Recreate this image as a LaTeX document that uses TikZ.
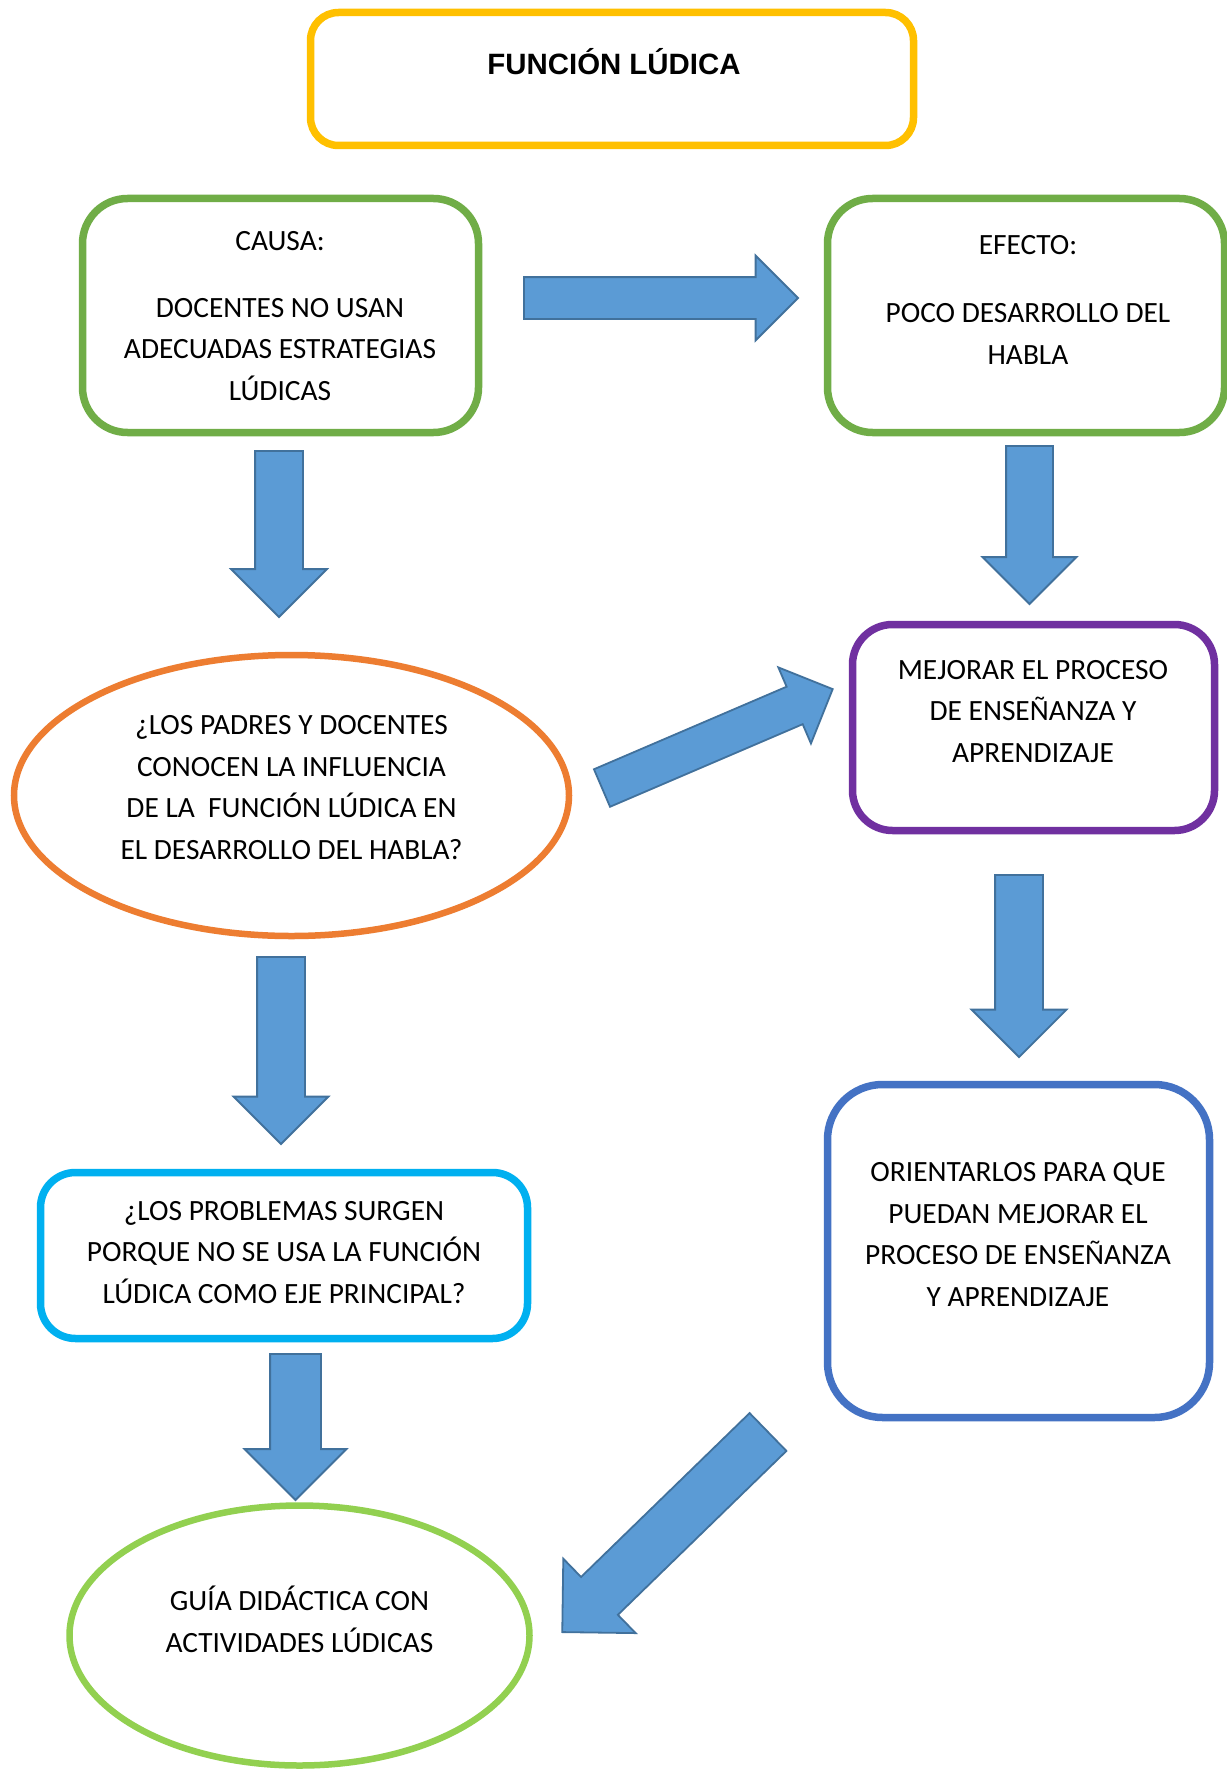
\documentclass[tikz,border=0pt]{standalone}
\usepackage{fontspec}
\setmainfont{Carlito}
\newfontfamily\titlefont{Liberation Sans}
\usetikzlibrary{shapes.geometric,shapes.arrows}
\definecolor{arrowfill}{HTML}{5B9BD5}
\definecolor{arrowedge}{HTML}{41719C}
\definecolor{gold}{HTML}{FFC000}
\definecolor{leaf}{HTML}{70AD47}
\definecolor{lime}{HTML}{92D050}
\definecolor{tangerine}{HTML}{ED7D31}
\definecolor{violet}{HTML}{7030A0}
\definecolor{royal}{HTML}{4472C4}
\definecolor{sky}{HTML}{00B0F0}
\begin{document}
\begin{tikzpicture}[x=1pt,y=-1pt,
  box/.style={draw, line width=7.5pt, inner sep=0pt, outer sep=0pt},
  oval/.style={ellipse, draw, line width=6.5pt, inner sep=0pt},
  txt/.style={align=center, font=\fontsize{29.4}{41.5}\selectfont, inner sep=0pt, anchor=base},
  bigarrow/.style n args={3}{single arrow, draw=arrowedge, fill=arrowfill, line width=1.8pt,
    inner xsep=0pt, inner ysep=#2/2, outer sep=0pt, minimum height=#1,
    minimum width=#3, single arrow head extend=#3/2-#2/2, anchor=tail}]
\fill[white] (0,0) rectangle (1226,1771);
\useasboundingbox (0,0) rectangle (1226,1771);
% the base of a text node is its last line
\node[box, draw=gold, rounded corners=28pt, minimum width=603, minimum height=133](titulo) at (612,79) {};
\node[anchor=base, inner sep=0pt, font=\titlefont\bfseries\fontsize{29.4}{34}\selectfont](titulotxt) at (614,75) {FUNCIÓN LÚDICA};
%
\node[box, draw=leaf, rounded corners=45pt, minimum width=396, minimum height=234](causa) at (280.5,315.5) {};
\node[txt](causatxt) at (280,400) {CAUSA:\\[25pt]DOCENTES NO USAN\\ADECUADAS ESTRATEGIAS\\LÚDICAS};
%
\node[box, draw=leaf, rounded corners=45pt, minimum width=397, minimum height=234](efecto) at (1026,315.5) {};
\node[txt](efectotxt) at (1028,364) {EFECTO:\\[27pt]POCO DESARROLLO DEL\\HABLA};
\node[bigarrow={274}{40}{83}](flecha1) at (524,298) {};
%
\node[bigarrow={166}{46}{94}, rotate=-90](flecha2) at (279,451) {};
\node[bigarrow={158}{45}{92}, rotate=-90](flecha3) at (1029.5,446) {};
%
\node[oval, draw=tangerine, minimum width=555, minimum height=281](pregunta) at (291.5,795.5) {};
\node[txt](preguntatxt) at (291.5,859) {¿LOS PADRES Y DOCENTES\\CONOCEN LA INFLUENCIA\\DE LA~ FUNCIÓN LÚDICA EN\\EL DESARROLLO DEL HABLA?};
%
\node[box, draw=violet, rounded corners=40pt, minimum width=362, minimum height=206](mejorar) at (1033.5,727.5) {};
\node[txt](mejorartxt) at (1033,762) {MEJORAR EL PROCESO\\DE ENSEÑANZA Y\\APRENDIZAJE};
\node[bigarrow={251}{39}{81}, rotate=23.2](flecha4) at (602,788) {};
%
\node[bigarrow={182}{46}{93}, rotate=-90](flecha5) at (1019,875) {};
\node[bigarrow={187}{46}{93}, rotate=-90](flecha6) at (281,957) {};
%
\node[box, draw=royal, rounded corners=55pt, minimum width=382, minimum height=333](orientar) at (1018.5,1251) {};
\node[txt](orientartxt) at (1018,1306) {ORIENTARLOS PARA QUE\\PUEDAN MEJORAR EL\\PROCESO DE ENSEÑANZA\\Y APRENDIZAJE};
%
\node[box, draw=sky, rounded corners=35pt, minimum width=487, minimum height=166](problemas) at (284,1255.5) {};
\node[txt](problemastxt) at (284,1303) {¿LOS PROBLEMAS SURGEN\\PORQUE NO SE USA LA FUNCIÓN\\LÚDICA COMO EJE PRINCIPAL?};
\node[bigarrow={146}{49}{100}, rotate=-90](flecha7) at (295.5,1354) {};
%
\node[oval, draw=lime, minimum width=460, minimum height=260](guia) at (299.5,1635.5) {};
\node[txt](guiatxt) at (299.5,1652) {GUÍA DIDÁCTICA CON\\ACTIVIDADES LÚDICAS};
\node[bigarrow={287}{51}{102}, rotate=224.2](flecha8) at (768,1432) {};
\end{tikzpicture}
\end{document}
